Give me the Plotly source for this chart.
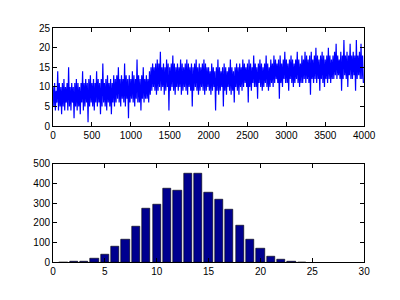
import numpy as np
import plotly.graph_objects as go

# Top panel: signal values read every 10 samples
signal = [
    10,5,11,4,9,6,14,4,11,5,10,3,11,5,12,4,10,6,11,4,15,5,10,4,11,6,10,2,11,5,12,4,11,5,10,3,11,6,14,4,
    11,5,12,6,11,1,12,5,13,6,11,5,12,4,11,6,14,5,12,6,11,3,12,5,16,6,11,5,12,4,13,6,11,5,12,3,11,6,13,5,
    12,6,13,7,15,6,12,5,13,7,12,6,16,5,13,7,12,2,13,6,12,7,14,6,13,5,12,7,17,6,13,6,12,4,13,7,15,6,12,7,
    13,7,12,6,14,8,15,9,16,10,15,9,16,8,17,9,16,10,19,9,15,10,16,8,15,9,17,10,16,4,15,9,16,10,18,9,16,8,15,10,
    16,9,15,10,17,8,16,9,15,10,16,9,17,8,16,10,15,9,16,5,15,9,16,10,17,9,15,8,16,9,15,10,16,9,17,8,16,9,15,10,
    15,9,14,8,16,9,15,10,14,4,15,9,17,8,15,9,14,10,15,5,16,9,15,8,14,10,15,9,17,8,15,9,14,6,15,10,16,9,15,8,
    16,10,15,9,17,10,16,11,15,10,16,6,17,10,16,9,15,11,18,10,16,10,15,7,16,11,17,10,16,9,15,10,16,11,18,10,16,9,15,10,
    17,11,16,10,18,11,17,12,16,11,17,7,18,11,16,10,17,12,19,11,17,11,16,9,17,12,18,11,17,10,16,11,17,12,19,11,17,10,16,11,
    18,11,17,12,19,11,18,12,17,11,18,8,19,12,17,11,18,12,20,11,18,12,17,9,18,12,19,11,18,10,17,12,18,11,20,12,18,11,17,12,
    18,12,19,13,21,12,18,13,17,12,19,9,18,12,22,13,18,12,19,10,18,13,21,12,18,12,19,13,18,9,22,12,18,13,19,12,21,12,18,11,
]
sample_step = 10

# Bottom panel: histogram counts per bin centre
bin_centers = list(range(1, 25))
bin_counts = [1, 3, 6, 18, 39, 81, 117, 180, 274, 292, 372, 365, 448, 448,
              354, 320, 268, 187, 114, 71, 28, 13, 6, 1]

top_xticks = [0, 500, 1000, 1500, 2000, 2500, 3000, 3500, 4000]
top_yticks = [0, 5, 10, 15, 20, 25]
bot_xticks = [0, 5, 10, 15, 20, 25, 30]
bot_yticks = [0, 100, 200, 300, 400, 500]

x_samples = np.arange(len(signal)) * sample_step

fig = go.Figure()
fig.add_trace(go.Scatter(x=x_samples, y=signal, mode="lines",
                         line=dict(color="rgb(0,0,255)", width=1.2),
                         xaxis="x", yaxis="y", showlegend=False))
fig.add_trace(go.Bar(x=bin_centers, y=bin_counts, width=0.8,
                     marker=dict(color="rgb(0,0,143)", line=dict(color="black", width=0.6)),
                     xaxis="x2", yaxis="y2", showlegend=False))

axis_common = dict(showline=True, linecolor="black", linewidth=1, mirror="ticks",
                   ticks="inside", ticklen=4, tickcolor="black", showgrid=False,
                   zeroline=False, tickfont=dict(family="Liberation Sans, Arial", size=10, color="black"))

fig.update_layout(
    width=400, height=300,
    margin=dict(l=0, r=0, t=0, b=0),
    paper_bgcolor="white", plot_bgcolor="white",
    xaxis=dict(domain=[0.13, 0.938], range=[0, 4000], tickvals=top_xticks, anchor="y", **axis_common),
    yaxis=dict(domain=[0.583, 0.923], range=[0, 25], tickvals=top_yticks, anchor="x", **axis_common),
    xaxis2=dict(domain=[0.13, 0.938], range=[0, 30], tickvals=bot_xticks, anchor="y2", **axis_common),
    yaxis2=dict(domain=[0.11, 0.453], range=[0, 500], tickvals=bot_yticks, anchor="x2", **axis_common),
    bargap=0,
)

fig.write_html("out.html")
